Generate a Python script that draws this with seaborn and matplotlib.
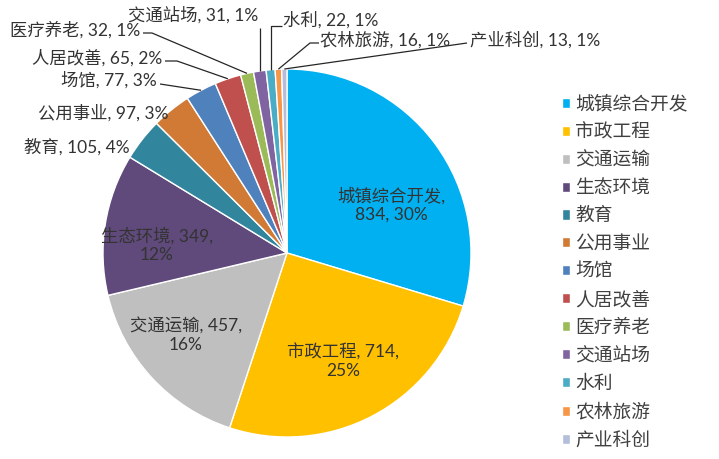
import numpy as np
import matplotlib
matplotlib.use('Agg')
import matplotlib.pyplot as plt
import seaborn as sns

# data
categories = ['城镇综合开发', '市政工程', '交通运输', '生态环境', '教育', '公用事业', '场馆',
              '人居改善', '医疗养老', '交通站场', '水利', '农林旅游', '产业科创']
values = [834, 714, 457, 349, 105, 97, 77, 65, 32, 31, 22, 16, 13]
percents = [30, 25, 16, 12, 4, 3, 3, 2, 1, 1, 1, 1, 1]
colors = ['#00B0F0', '#FFC000', '#BFBFBF', '#604A7B', '#31859C', '#D07A35', '#4F81BD',
          '#C0504D', '#9BBB59', '#8064A2', '#4BACC6', '#F79646', '#B4BEDA']

sns.set_theme(style='white')
plt.rcParams['font.family'] = ['Lato', 'Noto Sans CJK SC', 'DejaVu Sans']

W, H = 719, 459
cx, cy, R = 287, 253, 184   # pie centre / radius in pixels


def px(x, y):
    # pixel position in the picture -> pie data units
    return (x - cx) / R, (cy - y) / R


fig = plt.figure(figsize=(W / 100, H / 100), dpi=100)
ax = fig.add_axes([(cx - R) / W, (H - cy - R) / H, 2 * R / W, 2 * R / H])

wedges, _ = ax.pie(values, colors=sns.color_palette(colors), startangle=90,
                   counterclock=False, radius=1,
                   wedgeprops=dict(edgecolor='white', linewidth=1.0))
ax.set_xlim(-1, 1)
ax.set_ylim(-1, 1)
ax.set_aspect('equal')
ax.axis('off')

txt_color = '#333333'
fs = 12.5

# labels inside the big slices
inner = {
    '城镇综合开发': (px(391, 205), '{0},\n{1}, {2}%'),
    '市政工程': (px(343, 361), '{0}, {1},\n{2}%'),
    '交通运输': (px(186, 335), '{0}, {1},\n{2}%'),
    '生态环境': (px(157, 245), '{0}, {1},\n{2}%'),
}
# outer labels: text anchor, alignment, leader line elbow (or None)
outer = {
    '教育': (px(130, 147), 'right', None, False),
    '公用事业': (px(168, 113), 'right', None, False),
    '场馆': (px(157, 80), 'right', [px(160, 84)], True),
    '人居改善': (px(162, 58), 'right', [px(165, 61), px(177, 61)], True),
    '医疗养老': (px(140, 30), 'right', [px(143, 33), px(152, 33)], True),
    '交通站场': (px(258, 15), 'right', 'vert', True),
    '水利': (px(283, 20), 'left', [px(282, 26), 'corner'], True),
    '农林旅游': (px(320, 40), 'left', [px(319, 43), px(310, 43)], True),
    '产业科创': (px(470, 40), 'left', [px(467, 43)], True),
}

for i, (name, w) in enumerate(zip(categories, wedges)):
    val, pct = values[i], percents[i]
    if name in inner:
        pos, fmt = inner[name]
        ax.text(pos[0], pos[1], fmt.format(name, val, pct), ha='center', va='center',
                fontsize=fs, color=txt_color, linespacing=1.2)
        continue
    pos, ha, elbow, has_line = outer[name]
    ax.text(pos[0], pos[1], f'{name}, {val}, {pct}%', ha=ha, va='center',
            fontsize=fs, color=txt_color)
    if not has_line:
        continue
    mid = np.deg2rad((w.theta1 + w.theta2) / 2)
    rim = (np.cos(mid), np.sin(mid))
    if elbow == 'vert':
        top = px(0, 28)[1]
        pts = [(rim[0], top), rim]
    elif elbow[-1] == 'corner':
        top = elbow[0][1]
        pts = [elbow[0], (rim[0], top), rim]
    else:
        pts = list(elbow) + [rim]
    xs, ys = zip(*pts)
    ax.plot(xs, ys, color='#262626', lw=0.9, solid_capstyle='butt', clip_on=False)

leg = fig.legend(wedges, categories, loc='upper left',
                 bbox_to_anchor=(562 / W, 1 - 95 / H), frameon=False,
                 fontsize=13.5, handlelength=0.45, handleheight=0.45,
                 handletextpad=0.25, labelspacing=0.565, borderpad=0,
                 borderaxespad=0)
for t in leg.get_texts():
    t.set_color('#404040')

fig.savefig('out.png', dpi=100)
